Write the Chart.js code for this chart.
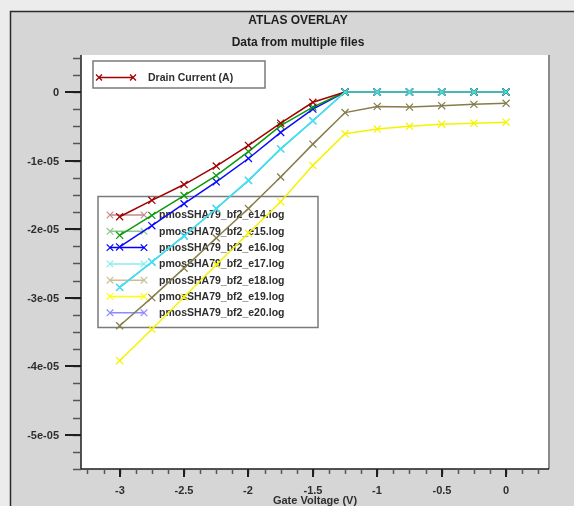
<!DOCTYPE html>
<html>
<head>
<meta charset="utf-8">
<script src="https://cdn.jsdelivr.net/npm/chart.js@4.4.1/dist/chart.umd.min.js"></script>
<style>
html,body{margin:0;padding:0;background:#ececec;}
canvas{display:block;}
</style>
</head>
<body>
<canvas id="c" width="574" height="506"></canvas>
<script>
// ---- data ----
const titleText = "ATLAS OVERLAY";
const subtitleText = "Data from multiple files";
const xTitle = "Gate Voltage (V)";
const yLegendLabel = "Drain Current (A)";
const seriesNames = ["pmosSHA79_bf2_e14.log","pmosSHA79_bf2_e15.log","pmosSHA79_bf2_e16.log","pmosSHA79_bf2_e17.log","pmosSHA79_bf2_e18.log","pmosSHA79_bf2_e19.log","pmosSHA79_bf2_e20.log"];
const voltage = [-3, -2.75, -2.5, -2.25, -2, -1.75, -1.5, -1.25, -1, -0.75, -0.5, -0.25, 0];
const e14 = [-1.82e-5, -1.58e-5, -1.35e-5, -1.08e-5, -0.78e-5, -0.455e-5, -0.15e-5, 0, 0, 0, 0, 0, 0];
const e15 = [-2.09e-5, -1.80e-5, -1.51e-5, -1.22e-5, -0.87e-5, -0.49e-5, -0.22e-5, 0, 0, 0, 0, 0, 0];
const e16 = [-2.26e-5, -1.95e-5, -1.63e-5, -1.31e-5, -0.97e-5, -0.59e-5, -0.25e-5, 0, 0, 0, 0, 0, 0];
const e17 = [-2.85e-5, -2.48e-5, -2.10e-5, -1.70e-5, -1.29e-5, -0.83e-5, -0.42e-5, 0, 0, 0, 0, 0, 0];
const e18 = [-3.41e-5, -3.00e-5, -2.57e-5, -2.13e-5, -1.70e-5, -1.24e-5, -0.76e-5, -0.30e-5, -0.21e-5, -0.22e-5, -0.20e-5, -0.18e-5, -0.165e-5];
const e19 = [-3.92e-5, -3.46e-5, -2.99e-5, -2.52e-5, -2.06e-5, -1.60e-5, -1.07e-5, -0.61e-5, -0.54e-5, -0.50e-5, -0.47e-5, -0.455e-5, -0.44e-5];
const e20 = [-2.85e-5, -2.48e-5, -2.10e-5, -1.70e-5, -1.29e-5, -0.83e-5, -0.42e-5, 0, 0, 0, 0, 0, 0];
const seriesValues = [e14, e15, e16, e17, e18, e19, e20];
const xTickValues = [-3, -2.5, -2, -1.5, -1, -0.5, 0];
const xTickLabels = ["-3", "-2.5", "-2", "-1.5", "-1", "-0.5", "0"];
const yTickValues = [0, -1e-5, -2e-5, -3e-5, -4e-5, -5e-5];
const yTickLabels = ["0", "-1e-05", "-2e-05", "-3e-05", "-4e-05", "-5e-05"];

// ---- styling ----
const lineColors = ['#a00000', '#0a9a0a', '#0a0aff', '#30ecec', '#857c4a', '#f4f400', '#8080ff'];
const legendColors = ['#c48a8a', '#8cc88c', '#0000ff', '#88eeee', '#c8c098', '#ffff00', '#8c8cff'];
const drawOrder = [1, 1, 1, 0, 1, 1, 2];
const FONT = '"Liberation Sans", Arial, sans-serif';

function crossAt(ctx, x, y, r) {
  ctx.beginPath();
  ctx.moveTo(x - r, y - r); ctx.lineTo(x + r, y + r);
  ctx.moveTo(x - r, y + r); ctx.lineTo(x + r, y - r);
  ctx.stroke();
}

const decor = {
  id: 'decor',
  beforeDraw(chart) {
    const ctx = chart.ctx, a = chart.chartArea;
    ctx.save();
    ctx.fillStyle = '#ececec';
    ctx.fillRect(0, 0, chart.width, chart.height);
    ctx.fillStyle = '#d6d6d6';
    ctx.fillRect(10, 11, chart.width - 10, chart.height - 11);
    ctx.strokeStyle = '#2a2a2a';
    ctx.lineWidth = 1.5;
    ctx.beginPath();
    ctx.moveTo(10.5, chart.height); ctx.lineTo(10.5, 11.5); ctx.lineTo(chart.width, 11.5);
    ctx.stroke();
    ctx.fillStyle = '#ffffff';
    ctx.fillRect(a.left, a.top, a.right - a.left, a.bottom - a.top);
    // titles
    ctx.fillStyle = '#1e1e1e';
    ctx.textAlign = 'center';
    ctx.textBaseline = 'middle';
    ctx.font = 'bold 12px ' + FONT;
    ctx.fillText(titleText, 298, 21);
    ctx.fillText(subtitleText, 298, 43);
    ctx.restore();
  },
  beforeDatasetsDraw(chart) {
    const ctx = chart.ctx;
    ctx.save();
    // Drain current legend box
    ctx.strokeStyle = '#7a7a7a';
    ctx.lineWidth = 1.5;
    ctx.strokeRect(93, 61, 172, 27);
    ctx.strokeStyle = '#a00000';
    ctx.lineWidth = 1.3;
    ctx.beginPath(); ctx.moveTo(99, 77.5); ctx.lineTo(133, 77.5); ctx.stroke();
    crossAt(ctx, 99, 77.5, 3); crossAt(ctx, 133, 77.5, 3);
    ctx.fillStyle = '#2e2e2e';
    ctx.font = 'bold 10.5px ' + FONT;
    ctx.textAlign = 'left';
    ctx.textBaseline = 'middle';
    ctx.fillText(yLegendLabel, 148, 78);
    // series legend box
    ctx.strokeStyle = '#7a7a7a';
    ctx.lineWidth = 1.5;
    ctx.strokeRect(98, 196.5, 220, 131);
    for (let i = 0; i < seriesNames.length; i++) {
      const y = 215 + i * 16.3;
      ctx.strokeStyle = legendColors[i];
      ctx.lineWidth = 1.5;
      ctx.beginPath(); ctx.moveTo(110, y); ctx.lineTo(144, y); ctx.stroke();
      ctx.lineWidth = 1.2;
      crossAt(ctx, 110, y, 3.3); crossAt(ctx, 144, y, 3.3);
      ctx.fillStyle = '#2e2e2e';
      ctx.fillText(seriesNames[i], 159, y + 0.5);
    }
    ctx.restore();
  },
  afterDatasetsDraw(chart) {
    const ctx = chart.ctx, a = chart.chartArea;
    const xs = chart.scales.x, ys = chart.scales.y;
    ctx.save();
    // right frame of plot
    ctx.strokeStyle = '#8a8a8a';
    ctx.lineWidth = 2;
    ctx.beginPath(); ctx.moveTo(a.right, a.top); ctx.lineTo(a.right, a.bottom); ctx.stroke();
    // axes lines
    ctx.strokeStyle = '#1e1e1e';
    ctx.lineWidth = 1.5;
    ctx.beginPath();
    ctx.moveTo(a.left, a.top); ctx.lineTo(a.left, a.bottom); ctx.lineTo(a.right, a.bottom);
    ctx.stroke();
    // y minor ticks
    ctx.strokeStyle = '#555555';
    ctx.lineWidth = 1.5;
    for (let v = 5e-6; v >= ys.min - 1e-12; v -= 2.5e-6) {
      const y = Math.round(ys.getPixelForValue(v)) + 0.5;
      ctx.beginPath(); ctx.moveTo(a.left - 8, y); ctx.lineTo(a.left, y); ctx.stroke();
    }
    // x minor ticks
    for (let k = -26; k <= 2; k++) {
      const x = Math.round(xs.getPixelForValue(k * 0.125)) + 0.5;
      ctx.beginPath(); ctx.moveTo(x, a.bottom); ctx.lineTo(x, a.bottom + 5); ctx.stroke();
    }
    // major ticks + labels
    ctx.strokeStyle = '#1e1e1e';
    ctx.lineWidth = 2;
    ctx.fillStyle = '#2e2e2e';
    ctx.font = 'bold 11px ' + FONT;
    ctx.textAlign = 'right';
    ctx.textBaseline = 'middle';
    yTickValues.forEach((v, i) => {
      const y = Math.round(ys.getPixelForValue(v));
      ctx.beginPath(); ctx.moveTo(a.left - 16, y); ctx.lineTo(a.left, y); ctx.stroke();
      ctx.fillText(yTickLabels[i], 59, y + 1);
    });
    ctx.textAlign = 'center';
    xTickValues.forEach((v, i) => {
      const x = Math.round(xs.getPixelForValue(v));
      ctx.beginPath(); ctx.moveTo(x, a.bottom); ctx.lineTo(x, a.bottom + 8); ctx.stroke();
      ctx.fillText(xTickLabels[i], x, 491);
    });
    ctx.fillText(xTitle, (a.left + a.right) / 2, 501);
    ctx.restore();
  }
};

const datasets = seriesNames.map((name, i) => ({
  label: name,
  data: voltage.map((v, j) => ({ x: v, y: seriesValues[i][j] })),
  borderColor: lineColors[i],
  backgroundColor: lineColors[i],
  borderWidth: 1.5,
  pointStyle: 'crossRot',
  pointRadius: 5,
  pointBorderWidth: 1.2,
  pointBorderColor: lineColors[i],
  fill: false,
  tension: 0,
  order: drawOrder[i]
}));

new Chart(document.getElementById('c'), {
  type: 'line',
  data: { datasets },
  options: {
    responsive: false,
    animation: false,
    devicePixelRatio: 1,
    layout: { padding: { left: 81, top: 55, right: 25, bottom: 37 } },
    plugins: { legend: { display: false }, tooltip: { enabled: false }, title: { display: false } },
    scales: {
      x: { type: 'linear', min: -3.3, max: 0.333, display: false },
      y: { type: 'linear', min: -5.5e-5, max: 5.4e-6, display: false }
    }
  },
  plugins: [decor]
});
</script>
</body>
</html>
